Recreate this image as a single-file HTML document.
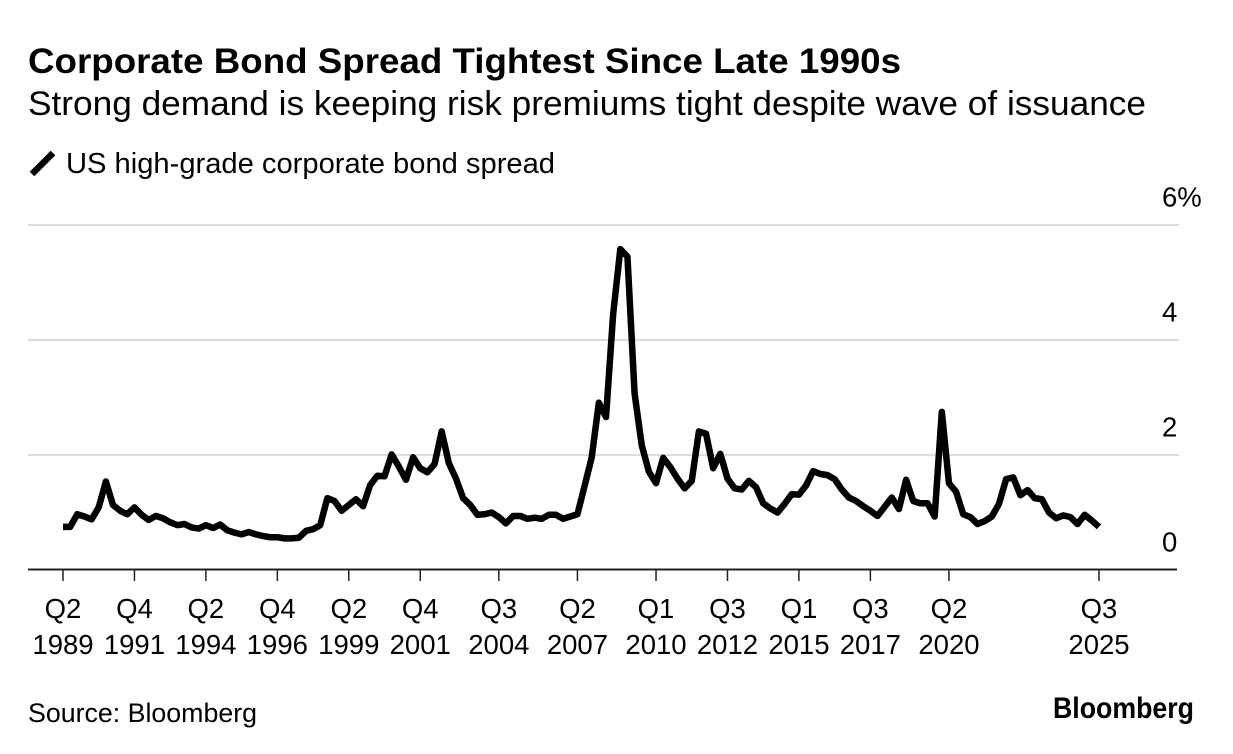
<!DOCTYPE html>
<html lang="en">
<head>
<meta charset="utf-8">
<title>Corporate Bond Spread Tightest Since Late 1990s</title>
<style>
html,body{margin:0;padding:0;background:#fff;width:1233px;height:754px;overflow:hidden}
svg{display:block}
text{font-family:"Liberation Sans",sans-serif;fill:#000}
</style>
</head>
<body>
<svg id="chart" xmlns="http://www.w3.org/2000/svg" width="1233" height="754" viewBox="0 0 1233 754">
  <text x="28" y="73" font-size="35" font-weight="700" textLength="873" lengthAdjust="spacingAndGlyphs">Corporate Bond Spread Tightest Since Late 1990s</text>
  <text x="28" y="115" font-size="34" textLength="1118" lengthAdjust="spacingAndGlyphs">Strong demand is keeping risk premiums tight despite wave of issuance</text>
  <line x1="32" y1="174" x2="53" y2="153" stroke="#000" stroke-width="6.5"/>
  <text x="66" y="173" font-size="29" textLength="489" lengthAdjust="spacingAndGlyphs">US high-grade corporate bond spread</text>
  <g id="grid"></g>
  <g id="yLabels"></g>
  <line x1="28" y1="569.5" x2="1177" y2="569.5" stroke="#222" stroke-width="2"/>
  <g id="xTicks"></g>
  <path id="series" fill="none" stroke="#000" stroke-width="6.5" stroke-linejoin="round" stroke-linecap="butt"/>
  <text x="28" y="722" font-size="27" textLength="229" lengthAdjust="spacingAndGlyphs">Source: Bloomberg</text>
  <text x="1053" y="718" font-size="30" font-weight="700" textLength="141" lengthAdjust="spacingAndGlyphs">Bloomberg</text>
</svg>
<script>
const startQuarter = "Q2 1989";
const spreadValues = [
0.75,0.75,0.97,0.93,0.88,1.09,1.54,1.13,1.03,0.97,
1.09,0.96,0.87,0.94,0.90,0.83,0.78,0.80,0.74,0.72,
0.78,0.73,0.79,0.69,0.65,0.62,0.66,0.62,0.59,0.57,
0.57,0.55,0.55,0.56,0.68,0.71,0.78,1.25,1.20,1.03,
1.13,1.23,1.11,1.48,1.64,1.63,2.01,1.80,1.57,1.96,
1.77,1.70,1.84,2.41,1.86,1.59,1.25,1.13,0.96,0.97,
1.00,0.92,0.81,0.94,0.94,0.89,0.91,0.89,0.96,0.96,
0.89,0.93,0.97,1.46,1.96,2.91,2.66,4.45,5.58,5.45,
3.07,2.17,1.71,1.51,1.95,1.79,1.59,1.42,1.55,2.41,
2.37,1.77,2.02,1.59,1.42,1.40,1.55,1.44,1.16,1.07,
1.00,1.15,1.32,1.31,1.47,1.72,1.67,1.65,1.58,1.40,
1.26,1.20,1.11,1.03,0.94,1.10,1.26,1.06,1.57,1.20,
1.16,1.16,0.93,2.75,1.51,1.36,0.97,0.92,0.80,0.85,
0.93,1.15,1.58,1.61,1.30,1.39,1.25,1.23,1.00,0.90,
0.95,0.92,0.80,0.96,0.86,0.75];
const yTicks = [0, 2, 4, 6];
const xTickLabels = ["Q2 1989","Q4 1991","Q2 1994","Q4 1996","Q2 1999","Q4 2001","Q3 2004","Q2 2007","Q1 2010","Q3 2012","Q1 2015","Q3 2017","Q2 2020","Q3 2025"];

const NS = "http://www.w3.org/2000/svg";
function quarterIndex(label) {
  const parts = label.split(" ");
  const q = parseInt(parts[0].slice(1), 10);
  return parseInt(parts[1], 10) * 4 + q;
}
const q0 = quarterIndex(startQuarter);
const qN = quarterIndex(xTickLabels[xTickLabels.length - 1]);
function xScale(i) { return 63 + i * (1099 - 63) / (qN - q0); }
function yScale(v) { return 570 - v * (570 - 225) / 6; }

const grid = document.getElementById("grid");
const yLabels = document.getElementById("yLabels");
yTicks.forEach(function (t) {
  const y = yScale(t);
  if (t !== 0) {
    const ln = document.createElementNS(NS, "line");
    
    
    ln.setAttribute("x1", 28);
    ln.setAttribute("x2", 1179);
    ln.setAttribute("y1", y);
    ln.setAttribute("y2", y);
    ln.setAttribute("stroke", "#dcdcdc");
    ln.setAttribute("stroke-width", 2);
    grid.appendChild(ln);
  }
  const tx = document.createElementNS(NS, "text");
  
  
  tx.setAttribute("x", 1162);
  tx.setAttribute("y", y - 18.5);
  tx.setAttribute("font-size", 27.5);
  tx.textContent = t === 6 ? t + "%" : String(t);
  yLabels.appendChild(tx);
});

const xTicks = document.getElementById("xTicks");
xTickLabels.forEach(function (label) {
  const x = xScale(quarterIndex(label) - q0);
  const parts = label.split(" ");
  const tick = document.createElementNS(NS, "line");
  
  
  tick.setAttribute("x1", x);
  tick.setAttribute("x2", x);
  tick.setAttribute("y1", 570);
  tick.setAttribute("y2", 581);
  tick.setAttribute("stroke", "#222");
  tick.setAttribute("stroke-width", 1.5);
  xTicks.appendChild(tick);
  [parts[0], parts[1]].forEach(function (s, k) {
    const tx = document.createElementNS(NS, "text");
    
    
    tx.setAttribute("x", x);
    tx.setAttribute("y", k === 0 ? 618 : 654);
    tx.setAttribute("font-size", 27.5);
    tx.setAttribute("text-anchor", "middle");
    tx.textContent = s;
    xTicks.appendChild(tx);
  });
});

document.getElementById("series").setAttribute("d", spreadValues.map(function (v, i) {
  return (i ? "L" : "M") + xScale(i).toFixed(2) + " " + yScale(v).toFixed(2);
}).join(""));
</script>
</body>
</html>
